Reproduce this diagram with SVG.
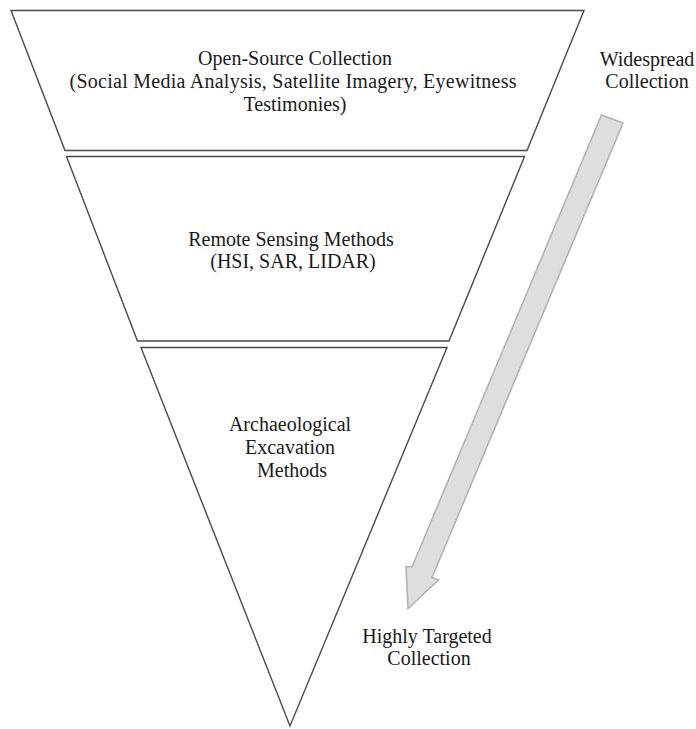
<svg xmlns="http://www.w3.org/2000/svg" width="696" height="729" viewBox="0 0 696 729">
<style>
.lvl{fill:#ffffff;stroke:#4a4a4a;stroke-width:1.4;stroke-linejoin:miter}
.t{font-family:"Liberation Serif","Times New Roman",serif;font-size:20px;fill:#1a1a1a;text-anchor:middle}
.arr{fill:#dedede;stroke:#b3b3b3;stroke-width:1.6;stroke-linejoin:miter}
</style>
<rect width="696" height="729" fill="#ffffff"/>
<g id="open-source">
<polygon class="lvl" points="11,10.5 584,10.5 527,150.5 65,150.5"/>
<text class="t" x="295" y="65">Open-Source Collection</text>
<text class="t" x="293" y="88" textLength="447" lengthAdjust="spacing">(Social Media Analysis, Satellite Imagery, Eyewitness</text>
<text class="t" x="295" y="111">Testimonies)</text>
</g>
<g id="remote-sensing">
<polygon class="lvl" points="66.5,156.5 524.5,156.5 449,341 137.5,341"/>
<text class="t" x="291" y="246">Remote Sensing Methods</text>
<text class="t" x="293" y="268">(HSI, SAR, LIDAR)</text>
</g>
<g id="archaeological">
<polygon class="lvl" points="141,347.5 447,347.5 290,726"/>
<text class="t" x="290" y="431">Archaeological</text>
<text class="t" x="290" y="454">Excavation</text>
<text class="t" x="292" y="477">Methods</text>
</g>
<g id="label-widespread">
<text class="t" x="647" y="66">Widespread</text>
<text class="t" x="647" y="88">Collection</text>
</g>
<g id="label-targeted">
<text class="t" x="427" y="643">Highly Targeted</text>
<text class="t" x="429" y="665">Collection</text>
</g>
<g id="connectors">
<polygon class="arr" points="601.5,115 623,123 432,577.5 438.5,580 408,608.5 406,566.5 412,567"/>
</g>
</svg>
